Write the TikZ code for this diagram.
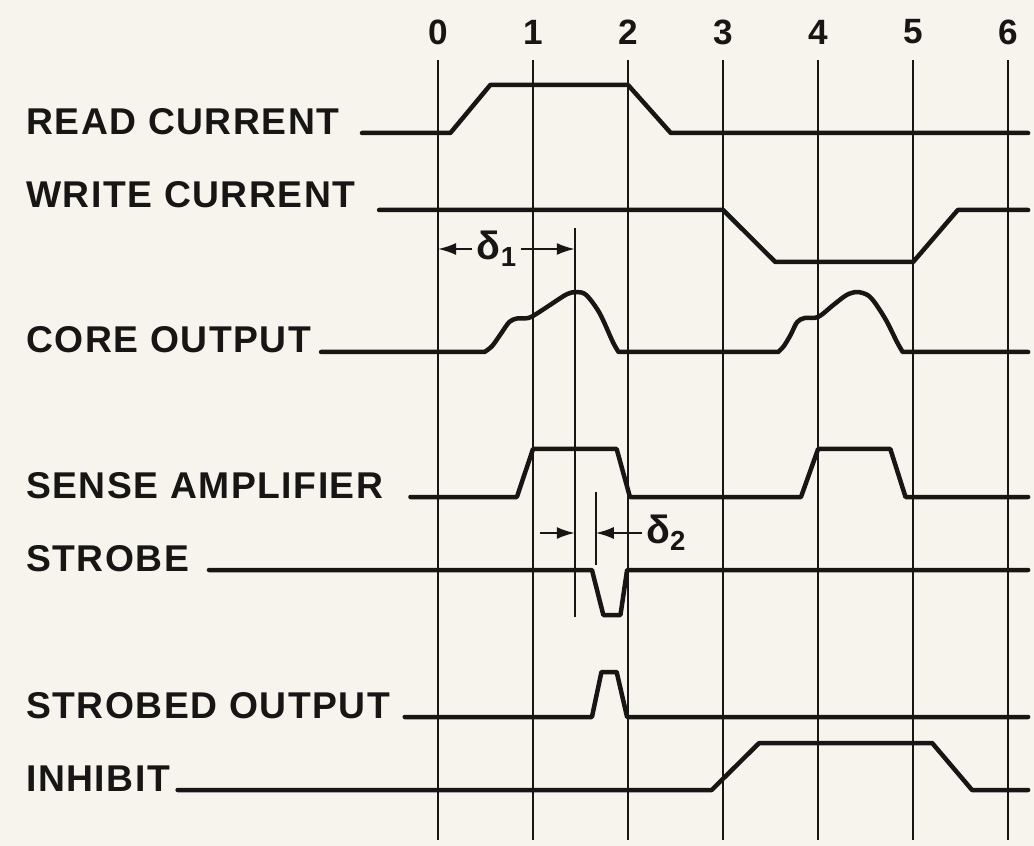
\documentclass[tikz,border=0pt]{standalone}
\usepackage{fontspec}
\setmainfont{Liberation Sans}
\newfontfamily\labelfont[LetterSpace=4]{Liberation Sans}
\usepackage{xcolor}
\usepackage{tikz}
\usetikzlibrary{arrows.meta,positioning}
\definecolor{paper}{RGB}{246,244,236}
\definecolor{ink}{RGB}{24,22,20}

\begin{document}
\begin{tikzpicture}[x=0.025cm, y=-0.025cm, >={Latex[length=0.45cm,width=0.3cm]},
    signal/.style={draw=ink, line width=3.2pt, line join=round, line cap=round},
    gridline/.style={draw=ink, line width=1.3pt},
    dimline/.style={draw=ink, line width=1.5pt},
    sig label/.style={anchor=base west, inner sep=0pt, text=ink, font=\labelfont\fontsize{26.5}{28}\selectfont\bfseries},
    tick label/.style={text=ink, font=\fontsize{25}{27}\selectfont\bfseries},
    dim label/.style={inner sep=3pt, text=ink, font=\fontsize{28}{30}\selectfont\bfseries}]
    \fill[paper] (0,0) rectangle (1034,846);
    \useasboundingbox (0,0) rectangle (1034,846);

    % signal names
    \node [sig label] (read) at (26,135) {READ CURRENT};
    \node [sig label] (write) at (26,208) {WRITE CURRENT};
    \node [sig label] (core) at (26,353) {CORE OUTPUT};
    \node [sig label] (sense) at (26,498) {SENSE AMPLIFIER};
    \node [sig label] (strobe) at (26,571) {STROBE};
    \node [sig label] (strobed) at (26,718) {STROBED OUTPUT};
    \node [sig label] (inhibit) at (26,791) {INHIBIT};

    \begin{scope}[shift={(438,0)}, x=2.375cm]
    % time marks
    \foreach \n in {0,...,6} {
        \node [tick label] (t\n) at (\n,32) {\n};
        \draw [gridline] (\n,60) -- (\n,840);
    }

    % waveforms
    \draw [signal] (-0.8,133) -- (0.13,133) -- (0.55,85) -- (2,85) -- (2.45,133) -- (6.21,133);
    \draw [signal] (-0.62,210) -- (3,210) -- (3.55,262) -- (5,262) -- (5.47,210) -- (6.21,210);
    \draw [signal] (-1.23,352) -- plot[smooth, tension=0.5] coordinates {(0.49,352) (0.57,346) (0.66,334) (0.75,322) (0.83,318.5) (0.95,318) (1.05,313) (1.21,303) (1.36,294) (1.46,292) (1.56,295) (1.70,313) (1.84,342) (1.9,352)}
        -- (3.58,352) -- plot[smooth, tension=0.5] coordinates {(3.58,352) (3.64,346) (3.71,335) (3.78,322) (3.86,318) (4.0,317) (4.16,305) (4.3,295) (4.41,292) (4.52,295) (4.6,303) (4.72,321) (4.83,342) (4.89,352)}
        -- (6.21,352);
    \draw [signal] (-0.29,497) -- (0.83,497) -- (1.0,449) -- (1.88,449) -- (2.02,497) -- (3.82,497) -- (4.0,449) -- (4.76,449) -- (4.92,497) -- (6.21,497);
    \draw [signal] (-2.41,570) -- (1.62,570) -- (1.74,615) -- (1.92,615) -- (1.99,570) -- (6.21,570);
    \draw [signal] (-0.35,717) -- (1.62,717) -- (1.72,672) -- (1.88,672) -- (1.99,717) -- (6.21,717);
    \draw [signal] (-2.74,790) -- (2.88,790) -- (3.38,743) -- (5.2,743) -- (5.62,790) -- (6.21,790);

    % delta 1
    \draw [dimline] (1.44,228) -- (1.44,617);
    \coordinate (d1 left) at (0,249);
    \coordinate (d1 right) at (1.44,249);
    \node [dim label] (d1) at (0.62,249) {δ\textsubscript{1}};
    \draw [dimline, ->] (d1.west) -- (d1 left);
    \draw [dimline, ->] (d1.east) -- (d1 right);

    % delta 2
    \draw [dimline] (1.66,492) -- (1.66,565);
    \coordinate (d2 tail) at (1.07,533);
    \coordinate (d2 left) at (1.44,533);
    \coordinate (d2 tip) at (1.66,533);
    \node [dim label, right=1.15cm of d2 tip] (d2) {δ\textsubscript{2}};
    \draw [dimline, ->] (d2 tail) -- (d2 left);
    \draw [dimline, ->] (d2.west) -- (d2 tip);
    \end{scope}
\end{tikzpicture}
\end{document}
